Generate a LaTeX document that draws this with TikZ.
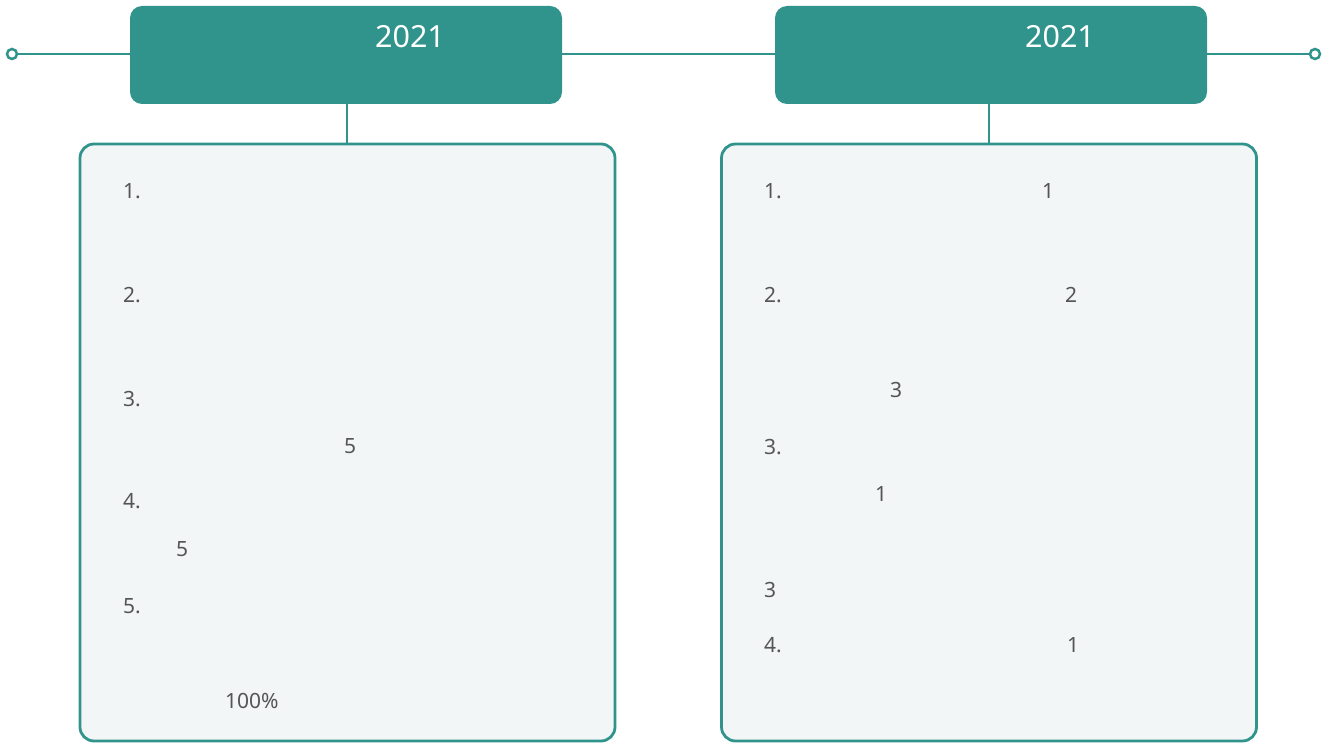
\documentclass[tikz,border=0pt]{standalone}
\usepackage{fontspec}
\setmainfont{Noto Sans}
\definecolor{teal1}{HTML}{31948C}
\definecolor{boxbg}{HTML}{F2F6F7}
\definecolor{txt}{HTML}{555555}
\begin{document}
\begin{tikzpicture}[x=1pt,y=-1pt,
  head/.style={fill=teal1,draw=none,rounded corners=12pt,minimum width=432pt,minimum height=98pt,inner sep=0pt},
  panel/.style={fill=boxbg,draw=teal1,line width=2.8pt,rounded corners=14pt,minimum width=535pt,minimum height=597pt,inner sep=0pt},
  conn/.style={draw=teal1,line width=2.5pt},
  endpt/.style={circle,draw=teal1,fill=white,line width=2.5pt,minimum size=10pt,inner sep=0pt},
  yr/.style={text=white,font=\fontsize{30.5}{33}\selectfont,inner sep=0pt},
  item/.style={text=txt,font=\fontsize{21}{24}\selectfont,anchor=west,inner sep=0pt}]
\useasboundingbox (0,0) rectangle (1325,743);
% timeline
\node[endpt] (e1) at (12,54) {};
\node[endpt] (e2) at (1315,54) {};
\node[head] (h1) at (346,55) {};
\node[head] (h2) at (991,55) {};
\node[panel] (p1) at (347.5,442.5) {};
\node[panel] (p2) at (989,442.5) {};
\draw[conn] (e1) -- (h1.west |- e1);
\draw[conn] (h1.east |- e1) -- (h2.west |- e1);
\draw[conn] (h2.east |- e2) -- (e2);
\draw[conn] (347,104) coordinate (c1) -- (c1 |- p1.north);
\draw[conn] (989,104) coordinate (c2) -- (c2 |- p2.north);
% titles
\node[yr] (t1) at (410,37) {2021};
\node[yr] (t2) at (1060,37) {2021};
% left panel
\node[item] (l1) at (123,191) {1.};
\node[item] (l2) at (123,295) {2.};
\node[item] (l3) at (123,399) {3.};
\node[item] (l3a) at (344,446) {5};
\node[item] (l4) at (123,501) {4.};
\node[item] (l4a) at (176,549) {5};
\node[item] (l5) at (123,606) {5.};
\node[item] (l5a) at (225,701) {100\%};
% right panel
\node[item] (r1) at (764,191) {1.};
\node[item] (r1a) at (1042,191) {1};
\node[item] (r2) at (764,295) {2.};
\node[item] (r2a) at (1065,295) {2};
\node[item] (r2b) at (890,390) {3};
\node[item] (r3) at (764,447) {3.};
\node[item] (r3a) at (875,494) {1};
\node[item] (r3b) at (764,590) {3};
\node[item] (r4) at (764,645) {4.};
\node[item] (r4a) at (1067,645) {1};
\end{tikzpicture}
\end{document}
